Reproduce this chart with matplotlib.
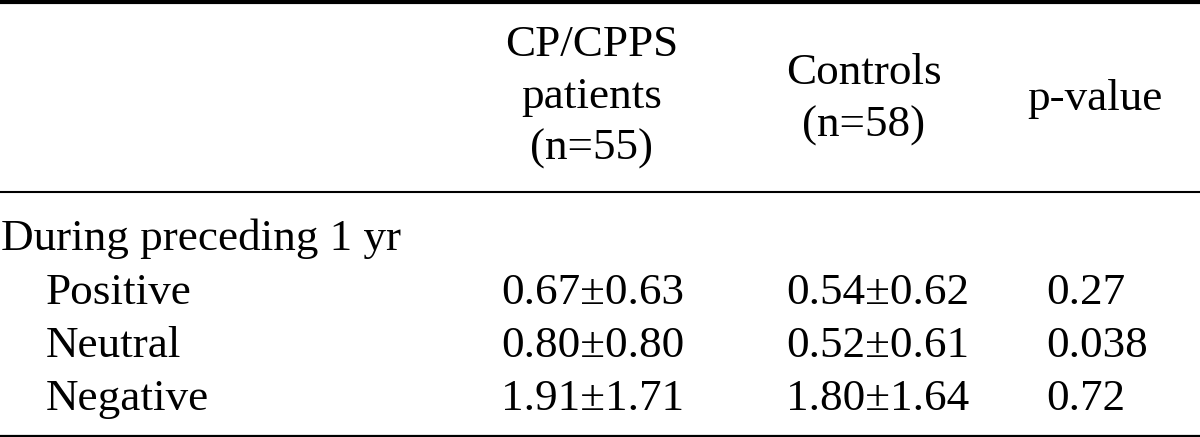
import matplotlib.pyplot as plt

# table contents
patients_head = ["CP/CPPS", "patients", "(n=55)"]
controls_head = ["Controls", "(n=58)"]
pvalue_head = ["p-value"]
section_title = "During preceding 1 yr"
row_labels = ["Positive", "Neutral", "Negative"]
patients = ["0.67±0.63", "0.80±0.80", "1.91±1.71"]
controls = ["0.54±0.62", "0.52±0.61", "1.80±1.64"]
p_values = ["0.27", "0.038", "0.72"]

W, H = 1200, 437
fig = plt.figure(figsize=(W / 100, H / 100), dpi=100)
ax = fig.add_axes([0, 0, 1, 1])
ax.set_xlim(0, W)
ax.set_ylim(H, 0)
ax.axis("off")

font = dict(family=["Liberation Serif", "DejaVu Serif"], fontsize=32.5, color="black")

# rules
ax.axhline(2, color="black", lw=3.0)
ax.axhline(192, color="black", lw=1.5)
ax.axhline(435.5, color="black", lw=1.6)

# header (pixel baselines)
for y, s in zip([56, 108, 160], patients_head):
    ax.text(592, y, s, ha="center", va="baseline", **font)
for y, s in zip([84, 137], controls_head):
    ax.text(864, y, s, ha="center", va="baseline", **font)
ax.text(1095, 110, pvalue_head[0], ha="center", va="baseline", **font)

# body
ax.text(1, 250, section_title, ha="left", va="baseline", **font)
row_y = [304, 357, 410]
for y, lab, a, b, p in zip(row_y, row_labels, patients, controls, p_values):
    ax.text(46, y, lab, ha="left", va="baseline", **font)
    ax.text(593, y, a, ha="center", va="baseline", **font)
    ax.text(878, y, b, ha="center", va="baseline", **font)
    ax.text(1046, y, p, ha="left", va="baseline", **font)

fig.savefig("out.png", dpi=100, facecolor="white")
